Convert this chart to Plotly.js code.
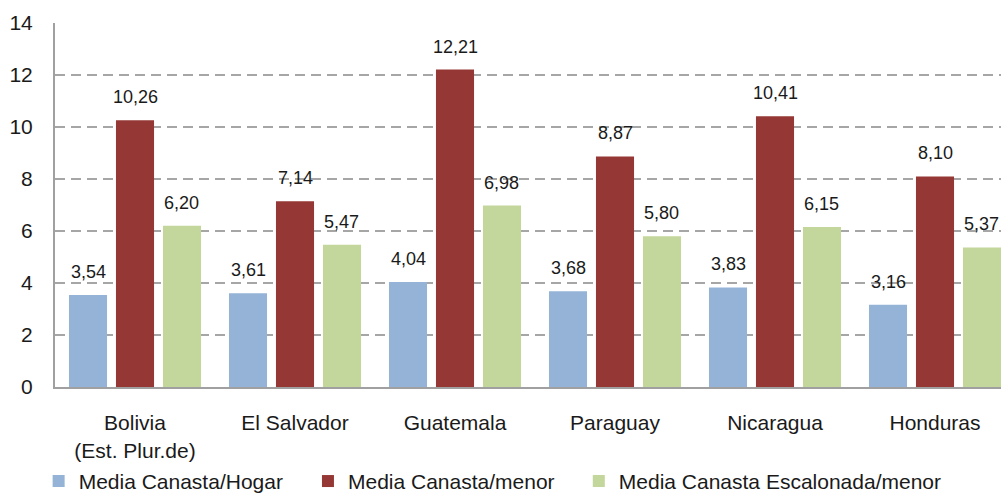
<!DOCTYPE html>
<html><head><meta charset="utf-8">
<script src="https://cdn.plot.ly/plotly-3.0.1.min.js"></script>
<style>html,body{margin:0;padding:0;background:#fff}#chart{width:1001px;height:495px}</style>
</head><body><div id="chart"></div>
<script>
const categories = ["Bolivia<br>(Est. Plur.de)", "El Salvador", "Guatemala", "Paraguay", "Nicaragua", "Honduras"];
const seriesNames = ["Media Canasta/Hogar", "Media Canasta/menor", "Media Canasta Escalonada/menor"];
const hogar = [3.54, 3.61, 4.04, 3.68, 3.83, 3.16];
const menor = [10.26, 7.14, 12.21, 8.87, 10.41, 8.10];
const escalonada = [6.20, 5.47, 6.98, 5.80, 6.15, 5.37];
const yTicks = [0, 2, 4, 6, 8, 10, 12, 14];
const colors = ["#95B3D7", "#953735", "#C3D69B"];

const fam = "Liberation Sans, Arial, sans-serif";
const txt = "#1a1a1a";
const bargap = 0.119;
const series = [hogar, menor, escalonada];
const legendIds = ["legend", "legend2", "legend3"];
const traces = series.map((vals, i) => ({
  type: "bar", name: seriesNames[i], x: categories, y: vals,
  marker: {color: colors[i], line: {width: 0}},
  legend: legendIds[i],
  hoverinfo: "skip"
}));

// value labels placed above each bar (offset within group follows bar slots)
const slot = (1 - bargap) / series.length;
const annotations = [];
series.forEach((vals, i) => {
  vals.forEach((v, j) => {
    annotations.push({
      xref: "x", yref: "y", x: j + (i - 1) * slot, y: v,
      text: v.toFixed(2).replace(".", ","), showarrow: false,
      yanchor: "bottom", yshift: 11,
      font: {size: 18, family: fam, color: txt}
    });
  });
});

const legendBase = {orientation: "h", xanchor: "left", y: -0.203, yanchor: "top",
  itemwidth: 30, bgcolor: "rgba(0,0,0,0)", font: {size: 21, family: fam, color: txt}};

const layout = {
  width: 1001, height: 495,
  margin: {l: 55, r: 0, t: 23, b: 108, autoexpand: false},
  font: {family: fam, size: 21, color: txt},
  paper_bgcolor: "#fff", plot_bgcolor: "#fff",
  barmode: "group", bargap: bargap, bargroupgap: 0.19,
  showlegend: true,
  legend: Object.assign({}, legendBase, {x: -0.0173}),
  legend2: Object.assign({}, legendBase, {x: 0.2674}),
  legend3: Object.assign({}, legendBase, {x: 0.5537}),
  annotations: annotations,
  xaxis: {range: [-0.5, 5.4125], showline: true, linecolor: "#A0A0A0", linewidth: 2,
          ticks: "", showgrid: false, tickfont: {size: 21}, ticklabelstandoff: 16, fixedrange: true, automargin: false},
  yaxis: {range: [0, 14], tickvals: yTicks, showline: true, linecolor: "#A0A0A0", linewidth: 2,
          showgrid: true, gridcolor: "#A6A6A6", griddash: "10px,6px", gridwidth: 1.5,
          zeroline: false, ticks: "", ticklabelstandoff: 16, tickfont: {size: 21}, fixedrange: true, automargin: false}
};
Plotly.newPlot("chart", traces, layout, {displayModeBar: false, staticPlot: true});
</script></body></html>
